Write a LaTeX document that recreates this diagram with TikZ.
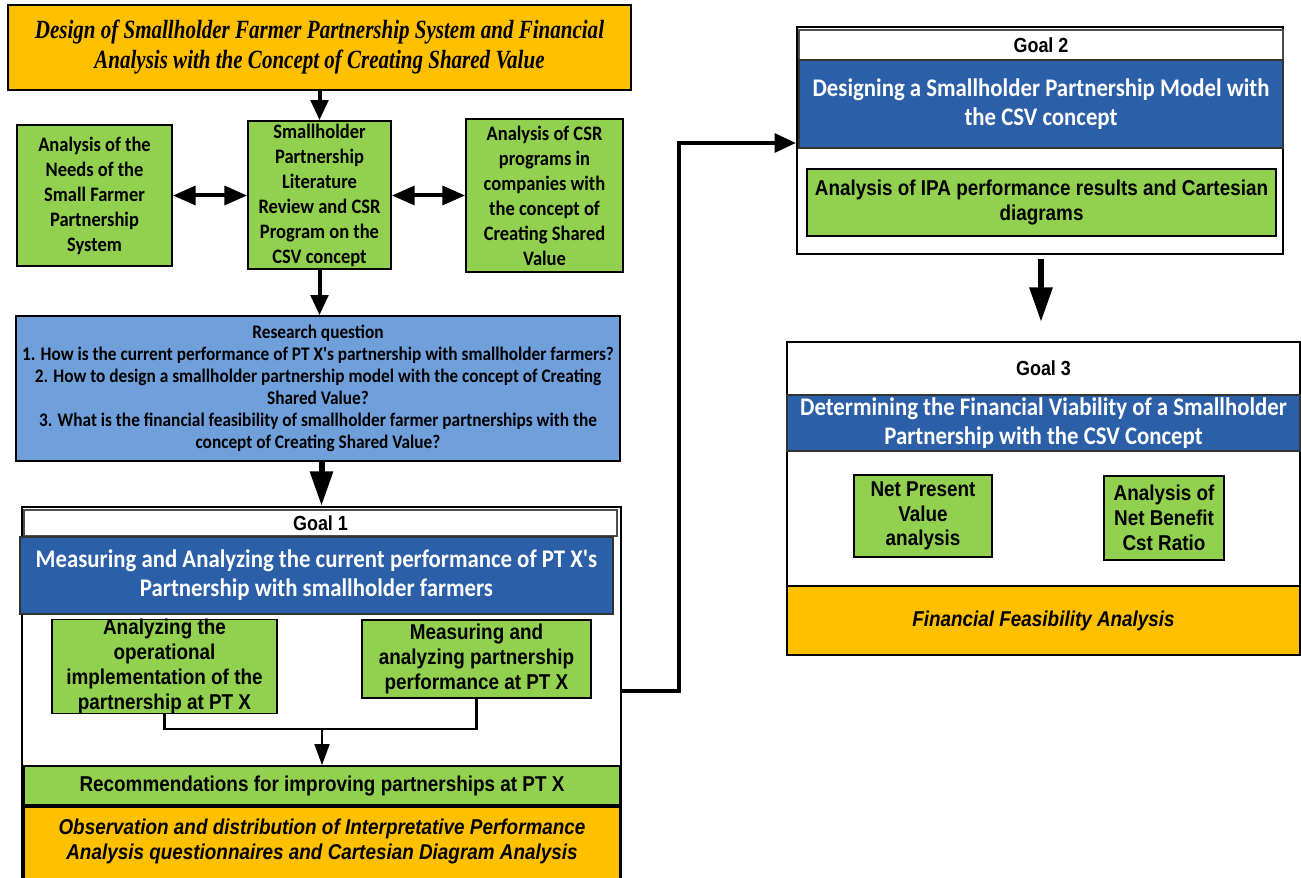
\documentclass[tikz,border=0pt]{standalone}
\usepackage{fontspec}
\newfontfamily\carl{Carlito}[FakeStretch=0.9]
\newfontfamily\arl{Liberation Sans}[FakeStretch=0.88]
\newfontfamily\tms{Liberation Serif}[FakeStretch=0.8]
\usetikzlibrary{arrows.meta}
\definecolor{grn}{HTML}{92D050}
\definecolor{org}{HTML}{FFC000}
\definecolor{lblue}{HTML}{6FA0DC}
\definecolor{dblue}{HTML}{2B5FA8}
\begin{document}
\begin{tikzpicture}[x=0.75pt,y=-0.75pt,
  bx/.style n args={4}{minimum width={(#3-#1)*0.75pt}, minimum height={(#4-#2)*0.75pt}, at={({(#1+#3)/2},{(#2+#4)/2})}},
  box/.style={draw, inner sep=0pt, align=center},
  gbox/.style={box, fill=grn, line width=1.3pt},
  obox/.style={box, fill=org, line width=1.3pt},
  frame/.style={box, line width=1.6pt},
  header/.style={box, fill=white, draw=black!70, line width=0.8pt},
  band/.style={box, fill=dblue, draw=black!80, line width=0.8pt, text=white},
  ctext/.style={font=\carl\bfseries\fontsize{15.4}{18.75}\selectfont},
  rqtext/.style={font=\carl\bfseries\fontsize{14.4}{16.5}\selectfont},
  bandtext/.style={font=\carl\bfseries\fontsize{19}{21.75}\selectfont},
  atext/.style={font=\arl\bfseries\fontsize{16.1}{18.6}\selectfont},
  aitext/.style={font=\arl\bfseries\itshape\fontsize{16.1}{18.75}\selectfont},
  goaltext/.style={font=\arl\bfseries\fontsize{15.3}{18}\selectfont},
  ttext/.style={font=\tms\bfseries\itshape\fontsize{19.7}{22.5}\selectfont},
  arr/.style={line width=3pt, -{Triangle[length=15pt,width=13pt]}},
  darr/.style={line width=3pt, {Triangle[length=17pt,width=14pt]}-{Triangle[length=17pt,width=14pt]}},
  ln/.style={line width=2.2pt},
  arrs/.style={line width=2.2pt, -{Triangle[length=16pt,width=11pt]}},
  arrl/.style={line width=4.5pt, -{Triangle[length=26pt,width=16.5pt]}},
]
\fill[white] (0,0) rectangle (1301,877);
\useasboundingbox (0,0) rectangle (1301,877);

% title
\node[obox, line width=1.8pt, ttext, bx={8}{5}{631}{90}] (title) {Design of Smallholder Farmer Partnership System and Financial\\Analysis with the Concept of Creating Shared Value};

% top row
\node[gbox, ctext, bx={17}{125}{172}{266}] (lb) {Analysis of the\\Needs of the\\Small Farmer\\Partnership\\System};
\node[gbox, ctext, bx={248}{121}{391}{269}] (mid) {Smallholder\\Partnership\\Literature\\Review and CSR\\Program on the\\CSV concept};
\node[gbox, ctext, bx={466}{119}{623}{272}] (rb) {Analysis of CSR\\programs in\\companies with\\the concept of\\Creating Shared\\Value};

% research question
\node[box, fill=lblue, line width=1.3pt, rqtext, bx={16}{316}{620}{461}] (rq) {Research question\\1. How is the current performance of PT X's partnership with smallholder farmers?\\2. How to design a smallholder partnership model with the concept of Creating\\Shared Value?\\3. What is the financial feasibility of smallholder farmer partnerships with the\\concept of Creating Shared Value?};

% goal 1
\node[frame, bx={22}{507}{621}{884}] (g1) {};
\node[header, goaltext, bx={24}{510}{617}{536}] (g1h) {Goal 1};
\node[band, bandtext, bx={20}{537}{613}{614}] (g1b) {Measuring and Analyzing the current performance of PT X's\\Partnership with smallholder farmers};
\node[gbox, line width=1pt, atext, bx={52}{620}{277}{713}] (a1) {Analyzing the\\operational\\implementation of the\\partnership at PT X};
\node[gbox, line width=1pt, atext, bx={362}{620}{591}{698}] (a2) {Measuring and\\analyzing partnership\\performance at PT X};
\node[gbox, line width=1pt, atext, bx={24}{766}{620}{805}] (rec) {Recommendations for improving partnerships at PT X};
\node[obox, line width=1pt, bx={24}{807}{620}{884}] (obs) {};
\node[aitext, align=center, inner sep=0pt] (obst) at (322,841.5) {Observation and distribution of Interpretative Performance\\Analysis questionnaires and Cartesian Diagram Analysis};

% goal 2
\node[frame, bx={797}{27}{1283}{254}] (g2) {};
\node[header, goaltext, bx={799}{30}{1283}{60}] (g2h) {Goal 2};
\node[band, bandtext, bx={799}{60}{1283}{148}] (g2b) {Designing a Smallholder Partnership Model with\\the CSV concept};
\node[gbox, line width=1pt, atext, bx={807}{169}{1276}{236}] (ipa) {Analysis of IPA performance results and Cartesian\\diagrams};

% goal 3
\node[frame, bx={787}{342}{1300}{655}] (g3) {};
\node[goaltext, inner sep=0pt] (g3h) at (1043.5,368) {Goal 3};
\node[band, bandtext, bx={787}{395}{1300}{451}] (g3b) {Determining the Financial Viability of a Smallholder\\Partnership with the CSV Concept};
\node[gbox, line width=1pt, atext, bx={854}{475}{992}{557}] (npv) {Net Present\\Value\\analysis};
\node[gbox, line width=1pt, atext, bx={1104}{476}{1224}{560}] (bcr) {Analysis of\\Net Benefit\\Cst Ratio};
\node[obox, line width=1.3pt, aitext, bx={787}{586}{1300}{655}] (ffa) {Financial Feasibility Analysis};

% connectors
\draw[arr] (title.south) -- (mid.north);
\draw[darr] (lb.east) -- (lb.east -| mid.west);
\draw[darr] (mid.east |- lb.east) -- (rb.west |- lb.east);
\draw[arr] (mid.south) -- (mid.south |- rq.north);
\draw[arrl] (rq.south -| g1.north) -- (g1.north);

\coordinate (j) at (322,729);
\draw[ln] (a1.south) |- (j);
\draw[ln] (a2.south) |- (j);
\draw[arrs] (j) -- (j |- rec.north);

\coordinate (c1) at (679,691);
\coordinate (c2) at (679,143);
\draw[line width=3pt, -{Triangle[length=16pt,width=14pt]}] (g1.east |- c1) -- (c1) -- (c2) -- (g2.west |- c2);

\coordinate (g3arr) at (1041,322);
\draw[arrl, shorten <=3pt] (g2.south -| g3arr) -- (g3arr);
\end{tikzpicture}
\end{document}
